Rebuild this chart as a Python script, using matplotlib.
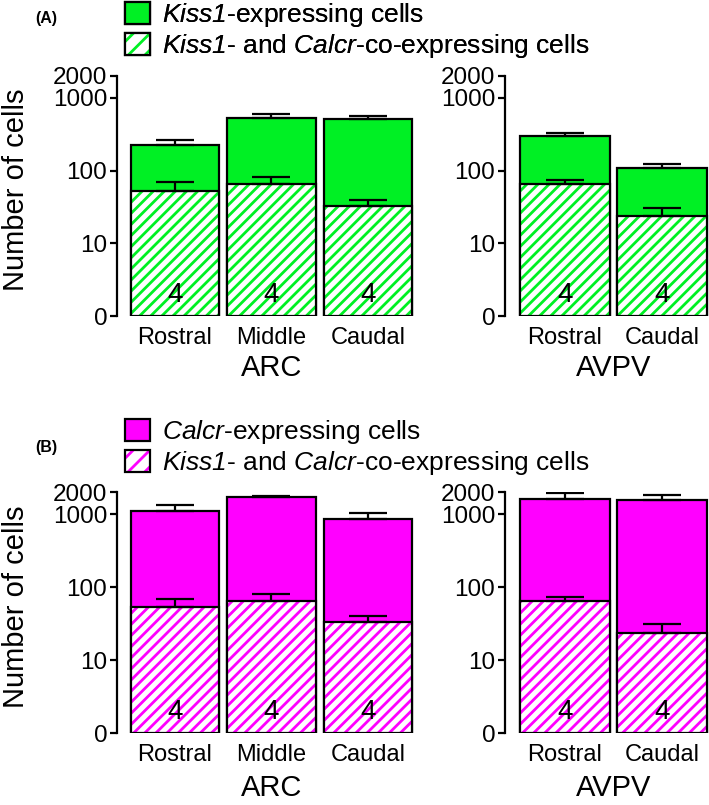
import numpy as np
import matplotlib
matplotlib.use("Agg")
import matplotlib.pyplot as plt
from matplotlib.patches import Patch
from matplotlib.transforms import blended_transform_factory

plt.rcParams['font.family'] = ['Liberation Sans', 'DejaVu Sans']
plt.rcParams['mathtext.fontset'] = 'custom'
plt.rcParams['mathtext.rm'] = 'Liberation Sans:italic'
plt.rcParams['mathtext.it'] = 'Liberation Sans:italic'
plt.rcParams['hatch.linewidth'] = 2.0

# ---------------- data ----------------
arc_regions = ["Rostral", "Middle", "Caudal"]
avpv_regions = ["Rostral", "Caudal"]
ytick_vals = [0, 10, 100, 1000, 2000]
ytick_labels = ["0", "10", "100", "1000", "2000"]

# (A) Kiss1-expressing cells
arc_kiss1 = [225, 537, 505]
arc_kiss1_sem = [41, 72, 60]
avpv_kiss1 = [299, 109]
avpv_kiss1_sem = [29, 16]

# Kiss1- and Calcr-co-expressing cells
arc_co = [53, 65, 33]
arc_co_sem = [17, 16, 7]
avpv_co = [65, 24]
avpv_co_sem = [9, 7]

# (B) Calcr-expressing cells
arc_calcr = [1120, 1710, 863]
arc_calcr_sem = [220, 90, 167]
avpv_calcr = [1620, 1570]
avpv_calcr_sem = [360, 270]

arc_n = [4, 4, 4]
avpv_n = [4, 4]

GREEN = '#00f024'
MAGENTA = '#ff00ff'
HATCH = '///'

W, H = 709, 805
fig = plt.figure(figsize=(W / 100, H / 100), dpi=100)


def fx(px):
    return px / W


def fy(py):
    return 1 - py / H


fwd = lambda v: np.log10(np.maximum(v, 1.0))
inv = lambda v: 10.0 ** v


def panel(rect, xlim, cats, total, total_sem, co, co_sem, n, color, group, grp_y):
    ax = fig.add_axes(rect)
    ax.set_yscale('function', functions=(fwd, inv))
    x = np.arange(len(cats))
    width = 0.92
    ax.bar(x, total, width=width, bottom=0, color=color, edgecolor='black',
           linewidth=1.6, zorder=2)
    ax.bar(x, co, width=width, bottom=0, color='white', edgecolor=color,
           hatch=HATCH, linewidth=0, zorder=3)
    ax.bar(x, co, width=width, bottom=0, fill=False, edgecolor='black',
           linewidth=1.6, zorder=4)
    ax.errorbar(x, total, yerr=[np.zeros(len(x)), total_sem], fmt='none',
                ecolor='black', elinewidth=1.6, capsize=14, capthick=1.6, zorder=5)
    ax.errorbar(x, co, yerr=[np.zeros(len(x)), co_sem], fmt='none',
                ecolor='black', elinewidth=1.6, capsize=14, capthick=1.6, zorder=5)
    tr = blended_transform_factory(ax.transData, ax.transAxes)
    for xi, ni in zip(x, n):
        ax.text(xi, 0.088, str(ni), transform=tr, ha='center', va='center',
                fontsize=20, zorder=6)
    ax.set_xlim(*xlim)
    ax.set_ylim(0, 2000)
    ax.set_yticks(ytick_vals)
    ax.set_yticklabels(ytick_labels, fontsize=17.5)
    ax.yaxis.set_minor_locator(matplotlib.ticker.NullLocator())
    ax.set_xticks(x)
    ax.set_xticklabels(cats, fontsize=17)
    ax.tick_params(axis='x', length=0, pad=8)
    ax.tick_params(axis='y', direction='out', length=5, width=1.6, pad=2)
    for s in ['top', 'right', 'bottom']:
        ax.spines[s].set_visible(False)
    ax.spines['left'].set_linewidth(1.6)
    ax.patch.set_alpha(0)
    ax.text(np.mean(x), grp_y, group, transform=tr, ha='center', va='center',
            fontsize=21)
    return ax


# Panel A
a_bot, a_top = 316, 76
b_bot, b_top = 733.3, 492.3
arc_rect_x = (fx(117), fx(417) - fx(117))
avpv_rect_x = (fx(505), fx(709) - fx(505))

panel([arc_rect_x[0], fy(a_bot), arc_rect_x[1], (a_bot - a_top) / H], (-0.601, 2.508),
      arc_regions, arc_kiss1, arc_kiss1_sem, arc_co, arc_co_sem, arc_n, GREEN, "ARC", -0.217)
panel([avpv_rect_x[0], fy(a_bot), avpv_rect_x[1], (a_bot - a_top) / H], (-0.619, 1.485),
      avpv_regions, avpv_kiss1, avpv_kiss1_sem, avpv_co, avpv_co_sem, avpv_n, GREEN, "AVPV", -0.217)

panel([arc_rect_x[0], fy(b_bot), arc_rect_x[1], (b_bot - b_top) / H], (-0.601, 2.508),
      arc_regions, arc_calcr, arc_calcr_sem, arc_co, arc_co_sem, arc_n, MAGENTA, "ARC", -0.227)
panel([avpv_rect_x[0], fy(b_bot), avpv_rect_x[1], (b_bot - b_top) / H], (-0.619, 1.485),
      avpv_regions, avpv_calcr, avpv_calcr_sem, avpv_co, avpv_co_sem, avpv_n, MAGENTA, "AVPV", -0.227)

# y labels
fig.text(fx(16), fy(190), "Number of cells", rotation=90, ha='center', va='center', fontsize=21)
fig.text(fx(16), fy(607), "Number of cells", rotation=90, ha='center', va='center', fontsize=21)

# panel letters
fig.text(fx(46), fy(18), "(A)", ha='center', va='center', fontsize=11.5, fontweight='bold')
fig.text(fx(46), fy(447), "(B)", ha='center', va='center', fontsize=11.5, fontweight='bold')


def make_legend(color, label1, ytop):
    h1 = Patch(facecolor=color, edgecolor='black', linewidth=1.6)
    h2a = Patch(facecolor='white', edgecolor=color, hatch='//', linewidth=0)
    h2b = Patch(fill=False, edgecolor='black', linewidth=1.6)
    leg = fig.legend([h1, (h2a, h2b)],
                     [label1, r"$Kiss1$- and $Calcr$-co-expressing cells"],
                     loc='upper left', bbox_to_anchor=(fx(125), fy(ytop)),
                     frameon=False, fontsize=19, handlelength=0.95, handleheight=0.87,
                     handletextpad=0.45, labelspacing=0.12, borderpad=0, borderaxespad=0)
    return leg


fig.add_artist(make_legend(GREEN, r"$Kiss1$-expressing cells", 1))
make_legend(MAGENTA, r"$Calcr$-expressing cells", 418)

fig.savefig("out.png", dpi=100)
